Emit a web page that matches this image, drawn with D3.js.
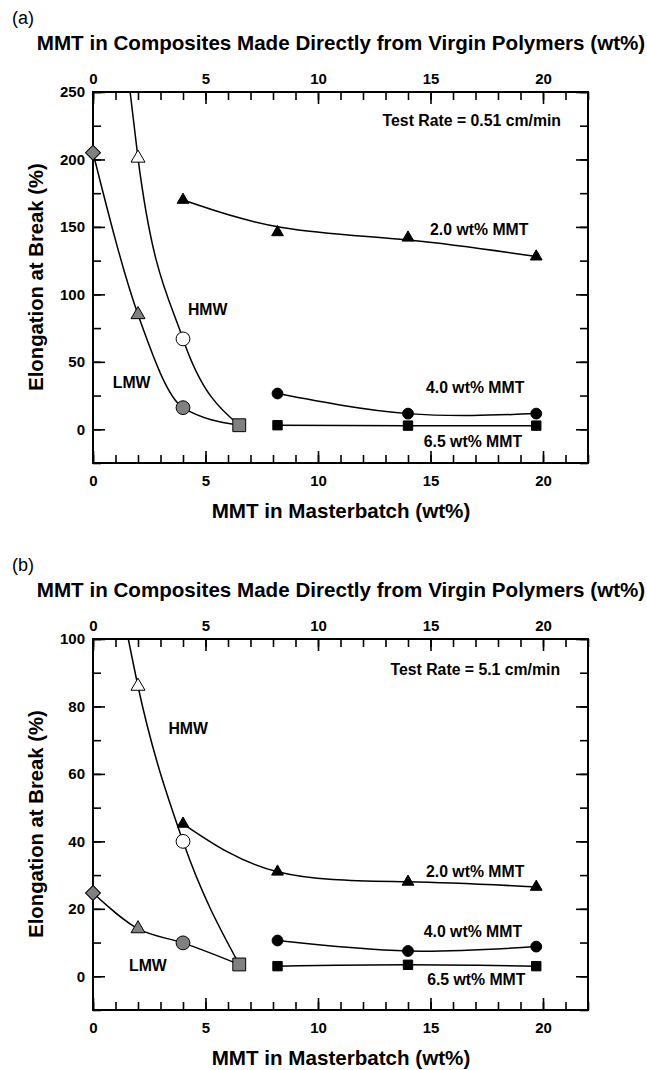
<!DOCTYPE html>
<html>
<head>
<meta charset="UTF-8">
<title>Elongation at Break</title>
<script src="https://cdn.jsdelivr.net/npm/d3@7"></script>
<style>
body { margin: 0; background: #fff; }
text { font-family: "Liberation Sans", Arial, sans-serif; font-weight: bold; fill: #000; }
</style>
</head>
<body>
<script>
// MMT in masterbatch (wt%)
var lmwX = [0, 2, 4, 6.5];
var hmwX = [2, 4, 6.5];
var mmt2X = [4, 8.2, 14, 19.7];
var mmtX = [8.2, 14, 19.7];

// (a) test rate 0.51 cm/min
var lmwA = [205, 85, 16, 3];
var hmwA = [201, 67, 3];
var hmwTopA = [1.65, 250];   // where the HMW fit leaves the frame
var mmt2A = [170, 146, 142, 128];
var mmt4A = [26.5, 11.6, 11.6];
var mmt65A = [3, 2.7, 2.7];

// (b) test rate 5.1 cm/min
var lmwB = [24.7, 14.1, 9.9, 3.5];
var hmwB = [86, 40, 3.5];
var hmwTopB = [1.57, 100];
var mmt2B = [45.2, 31, 28, 26.5];
var mmt4B = [10.6, 7.5, 8.8];
var mmt65B = [3, 3.4, 3];

var xTicks = [0, 5, 10, 15, 20];
var yTicksA = [0, 50, 100, 150, 200, 250];
var yTicksB = [0, 20, 40, 60, 80, 100];

var W = 647, H = 1070;
var svg = d3.select("body").append("svg").attr("width", W).attr("height", H);

var x = d3.scaleLinear().domain([0, 22]).range([93, 588]);

//marker shapes used for the LMW points (one shape per point)
var lmwShapes = ["diamond", "triangle", "circle", "square"];
var hmwShapes = ["triangle", "circle", null]; // last point is the shared grey square

function marker(g, shape, cx, cy, fill, big) {
	var type, size, rot = 0;
	if (shape == "diamond") { type = d3.symbolSquare; size = 112; rot = 45; }
	else if (shape == "triangle") { type = d3.symbolTriangle; size = big ? 85 : 60; }
	else if (shape == "circle") { type = d3.symbolCircle; size = big ? 150 : 92; }
	else { type = d3.symbolSquare; size = big ? 165 : 88; }
	g.append("path")
		.attr("d", d3.symbol(type, size)())
		.attr("transform", "translate(" + cx + "," + cy + ") rotate(" + rot + ")")
		.attr("fill", fill)
		.attr("stroke", "#000")
		.attr("stroke-width", 1);
}

function drawPanel(p) {
	var y = d3.scaleLinear().domain(p.yDomain).range([p.top + 371, p.top]);
	var bottom = p.top + 371;
	var g = svg.append("g");

	g.append("text").attr("x", 12).attr("y", p.top - 68)
		.style("font-weight", "normal").style("font-size", "18px").text(p.tag);
	g.append("text").attr("x", 341).attr("y", p.top - 42).attr("text-anchor", "middle")
		.style("font-size", "20.6px").text("MMT in Composites Made Directly from Virgin Polymers (wt%)");
	g.append("text").attr("x", 341).attr("y", bottom + 55).attr("text-anchor", "middle")
		.style("font-size", "20.6px").text("MMT in Masterbatch (wt%)");
	g.append("text")
		.attr("transform", "translate(43," + (p.top + 185) + ") rotate(-90)")
		.attr("text-anchor", "middle")
		.style("font-size", "20.3px").text("Elongation at Break (%)");

	//axes: major ticks labelled, minor ticks plain, all pointing inward
	var minorX = d3.range(0, 23, 1);
	var minorY = d3.range(p.yDomain[0], p.yDomain[1] + 0.001, p.yMinor);

	function addAxis(axis, transform) {
		var a = g.append("g").attr("transform", transform).call(axis);
		a.select(".domain").remove();
		a.selectAll("line").attr("stroke-width", 1.6);
		a.selectAll("text").style("font-size", "15px").style("font-family", "'Liberation Sans', Arial, sans-serif").style("font-weight", "bold");
		return a;
	}
	addAxis(d3.axisBottom(x).tickValues(minorX).tickSize(-8).tickFormat(""), "translate(0," + bottom + ")");
	addAxis(d3.axisBottom(x).tickValues(xTicks).tickSize(-12).tickPadding(12).tickFormat(d3.format("d")), "translate(0," + bottom + ")");
	addAxis(d3.axisTop(x).tickValues(minorX).tickSize(-8).tickFormat(""), "translate(0," + p.top + ")");
	addAxis(d3.axisTop(x).tickValues(xTicks).tickSize(-12).tickPadding(8).tickFormat(d3.format("d")), "translate(0," + p.top + ")");
	addAxis(d3.axisLeft(y).tickValues(minorY).tickSize(-8).tickFormat(""), "translate(93,0)");
	addAxis(d3.axisLeft(y).tickValues(p.yTicks).tickSize(-12).tickPadding(8).tickFormat(d3.format("d")), "translate(93,0)");
	addAxis(d3.axisRight(y).tickValues(minorY).tickSize(-8).tickFormat(""), "translate(588,0)");
	addAxis(d3.axisRight(y).tickValues(p.yTicks).tickSize(-12).tickFormat(""), "translate(588,0)");

	g.append("rect").attr("x", 93).attr("y", p.top).attr("width", 495).attr("height", 371)
		.attr("fill", "none").attr("stroke", "#000").attr("stroke-width", 2);

	//fit curves
	var smooth = d3.line().x(function(d) { return x(d[0]); }).y(function(d) { return y(d[1]); });
	function curve(xs, ys, type, lead) {
		var pts = xs.map(function(v, i) { return [v, ys[i]]; });
		if (lead) pts.unshift(lead);
		g.append("path").attr("d", smooth.curve(type)(pts))
			.attr("fill", "none").attr("stroke", "#000").attr("stroke-width", 1.5);
	}
	curve(lmwX, p.lmw, d3.curveMonotoneX);
	curve(hmwX, p.hmw, d3.curveMonotoneX, p.hmwTop);
	curve(mmt2X, p.m2, p.fit2);
	curve(mmtX, p.m4, d3.curveNatural);
	curve(mmtX, p.m65, d3.curveNatural);

	//markers
	lmwX.forEach(function(v, i) { marker(g, lmwShapes[i], x(v), y(p.lmw[i]), "#808080", true); });
	hmwX.forEach(function(v, i) { if (hmwShapes[i]) marker(g, hmwShapes[i], x(v), y(p.hmw[i]), "#fff", true); });
	mmt2X.forEach(function(v, i) { marker(g, "triangle", x(v), y(p.m2[i]), "#000", false); });
	mmtX.forEach(function(v, i) { marker(g, "circle", x(v), y(p.m4[i]), "#000", false); });
	mmtX.forEach(function(v, i) { marker(g, "square", x(v), y(p.m65[i]), "#000", false); });

	//annotations
	p.notes.forEach(function(n) {
		g.append("text").attr("x", x(n[1])).attr("y", y(n[2]))
			.attr("text-anchor", n[3] || "start")
			.style("font-size", "15.8px").text(n[0]);
	});
}

drawPanel({
	tag: "(a)", top: 92, yDomain: [-25, 250], yTicks: yTicksA, yMinor: 25,
	lmw: lmwA, hmw: hmwA, hmwTop: hmwTopA, m2: mmt2A, m4: mmt4A, m65: mmt65A,
	fit2: d3.curveBasis,
	notes: [
		["Test Rate = 0.51 cm/min", 20.8, 225, "end"],
		["2.0 wt% MMT", 14.98, 144],
		["HMW", 4.22, 84.6],
		["LMW", 0.88, 30.4],
		["4.0 wt% MMT", 14.8, 26.7],
		["6.5 wt% MMT", 14.7, -13.4]
	]
});

drawPanel({
	tag: "(b)", top: 639, yDomain: [-10, 100], yTicks: yTicksB, yMinor: 10,
	lmw: lmwB, hmw: hmwB, hmwTop: hmwTopB, m2: mmt2B, m4: mmt4B, m65: mmt65B,
	fit2: d3.curveNatural,
	notes: [
		["Test Rate = 5.1 cm/min", 20.76, 89.3, "end"],
		["HMW", 3.35, 71.8],
		["2.0 wt% MMT", 14.8, 29.4],
		["4.0 wt% MMT", 14.7, 11.5],
		["6.5 wt% MMT", 14.85, -2.5],
		["LMW", 1.6, 1.5]
	]
});
</script>
</body>
</html>
